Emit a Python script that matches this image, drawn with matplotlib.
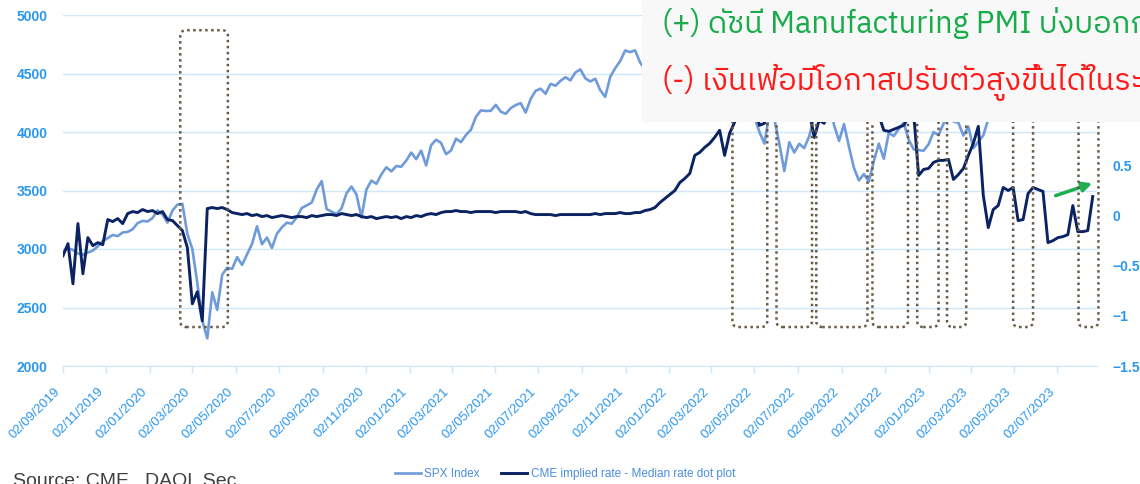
import matplotlib
matplotlib.use('Agg')
import matplotlib.pyplot as plt
import matplotlib.dates as mdates
from matplotlib.patches import Rectangle, FancyBboxPatch
from matplotlib.transforms import IdentityTransform
from matplotlib.ticker import FuncFormatter
from matplotlib import font_manager
from matplotlib.ft2font import FT2Font
import pandas as pd

# ---- data (weekly) ----
start_date = '2019-09-02'

spx = [
    # 2019
    2979, 3007, 2992, 2961, 2952, 2970, 2986, 3023, 3067, 3093,
    3120, 3110, 3141, 3146, 3169, 3221, 3240, 3235,
    # 2020
    3265, 3330, 3295, 3225, 3328, 3380, 3386, 3128,
    3000, 2711, 2390, 2237, 2630, 2480, 2780, 2840, 2830,
    2930, 2864, 2955, 3044, 3194, 3041, 3098, 3009, 3130,
    3185, 3225, 3216, 3271, 3351, 3373, 3397, 3508, 3580,
    3341, 3319, 3298, 3348, 3477, 3534, 3465, 3270,
    3509, 3585, 3557, 3638, 3699, 3663, 3709, 3703, 3756,
    # 2021
    3824, 3768, 3841, 3714, 3887, 3934, 3907, 3811,
    3842, 3943, 3913, 3974, 4019, 4129, 4185, 4180, 4181,
    4232, 4174, 4156, 4204, 4230, 4247, 4166, 4281, 4352,
    4370, 4327, 4412, 4395, 4437, 4468, 4441, 4509, 4535,
    4459, 4432, 4455, 4357, 4300, 4471, 4545, 4605,
    4697, 4683, 4698, 4595, 4538, 4712, 4620, 4725, 4766,
    # 2022
    4796, 4662, 4398, 4326, 4500, 4419, 4349, 4385, 4329,
    4170, 4463, 4543, 4546, 4488, 4393, 4272, 4132,
    4123, 4000, 3901, 4158, 4109, 3901, 3666, 3912, 3825,
    3899, 3863, 3962, 4130, 4145, 4280, 4305, 4058, 3924,
    4068, 3873, 3693, 3586, 3640, 3577, 3752, 3901, 3771,
    3993, 3965, 4026, 4080, 3934, 3852, 3845, 3840,
    # 2023
    3895, 3999, 3973, 4071, 4136, 4090, 4079, 3970, 4046,
    3862, 3917, 3971, 4109, 4105, 4138, 4133, 4169,
    4136, 4124, 4192, 4205, 4282, 4299, 4410, 4348, 4450,
    4399, 4505, 4536, 4582, 4478, 4464, 4370, 4406,
]

cme_gap = [
    -0.40, -0.28, -0.68, -0.08, -0.58, -0.22, -0.30, -0.27, -0.29, -0.04,
    -0.06, -0.03, -0.08, 0.02, 0.04, 0.03, 0.06, 0.04, 0.05, 0.02,
    0.04, -0.04, -0.05, -0.10, -0.15, -0.32, -0.88, -0.76, -1.05, 0.07,
    0.08, 0.07, 0.08, 0.06, 0.03, 0.02, 0.01, 0.02, 0.00, 0.01,
    -0.01, 0.00, -0.02, -0.01, 0.00, -0.01, -0.02, -0.01, -0.01, -0.02,
    0.00, -0.01, 0.00, 0.01, 0.01, 0.00, 0.02, 0.01, 0.00, 0.01,
    -0.01, -0.02, -0.01, -0.03, -0.02, -0.01, -0.02, -0.01, -0.03, -0.01,
    -0.02, 0.00, -0.01, 0.01, 0.02, 0.01, 0.03, 0.04, 0.04, 0.05,
    0.04, 0.04, 0.03, 0.04, 0.04, 0.04, 0.04, 0.03, 0.04, 0.04,
    0.04, 0.04, 0.03, 0.04, 0.02, 0.01, 0.01, 0.01, 0.01, 0.00,
    0.01, 0.01, 0.01, 0.01, 0.01, 0.01, 0.01, 0.02, 0.01, 0.02,
    0.02, 0.02, 0.03, 0.02, 0.02, 0.03, 0.03, 0.05, 0.06, 0.08,
    0.13, 0.17, 0.21, 0.25, 0.33, 0.37, 0.42, 0.60, 0.63, 0.68,
    0.72, 0.78, 0.85, 0.60, 0.82, 0.93, 1.05, 1.15, 1.25, 1.10,
    0.90, 0.92, 1.10, 1.30, 1.40, 1.35, 1.50, 1.45, 1.30, 1.20,
    1.05, 0.78, 0.95, 0.92, 1.05, 1.20, 1.40, 1.50, 1.60, 1.45,
    1.35, 1.30, 1.20, 1.10, 1.00, 0.85, 0.84, 0.86, 0.88, 0.90,
    0.98, 1.02, 0.40, 0.46, 0.47, 0.53, 0.55, 0.55, 0.56, 0.36,
    0.41, 0.47, 0.60, 0.72, 0.89, 0.20, -0.12, 0.06, 0.10, 0.28,
    0.25, 0.28, -0.05, -0.04, 0.22, 0.28, 0.26, 0.24, -0.27, -0.25,
    -0.22, -0.21, -0.19, 0.10, -0.16, -0.16, -0.15, 0.19,
]

tick_labels = ['02/09/2019', '02/11/2019', '02/01/2020', '02/03/2020', '02/05/2020',
               '02/07/2020', '02/09/2020', '02/11/2020', '02/01/2021', '02/03/2021',
               '02/05/2021', '02/07/2021', '02/09/2021', '02/11/2021', '02/01/2022',
               '02/03/2022', '02/05/2022', '02/07/2022', '02/09/2022', '02/11/2022',
               '02/01/2023', '02/03/2023', '02/05/2023', '02/07/2023']

# right axis ticks that show (the upper ones sit under the header panel)
right_ticks = [-1.5, -1.0, -0.5, 0, 0.5]

# highlighted periods (dotted boxes)
box_spans = [('2020-02-14', '2020-04-21'), ('2022-04-01', '2022-05-20'),
             ('2022-06-02', '2022-07-22'), ('2022-07-28', '2022-10-08'),
             ('2022-10-15', '2022-12-04'), ('2022-12-17', '2023-01-16'),
             ('2023-01-28', '2023-02-24'), ('2023-05-01', '2023-05-29'),
             ('2023-08-01', '2023-08-29')]
box_low, box_high = 2333, 4870

arrow_from = ('2023-06-26', 0.19)
arrow_to = ('2023-08-24', 0.33)

line1 = '(+) ดัชนี Manufacturing PMI บ่งบอกการฟื้นตัว'
line2 = '(-) เงินเฟ้อมีโอกาสปรับตัวสูงขึ้นได้ในระยะสั้น'


def find_thai_font():
    pref = ['Thai', 'Loma', 'Garuda', 'Kanit', 'Sarabun', 'Prompt', 'Waree', 'Umpush', 'Kinnari', 'Norasi']
    found = []
    for f in font_manager.fontManager.ttflist:
        try:
            ft = FT2Font(f.fname)
            if ft.get_char_index(0x0E14):
                found.append(f.name)
        except Exception:
            pass
    for p in pref:
        for n in found:
            if p in n:
                return n
    return found[0] if found else 'DejaVu Sans'


thai_font = find_thai_font()

plt.rcParams['font.family'] = ['Liberation Sans', 'DejaVu Sans']

W, H = 1140, 484
fig = plt.figure(figsize=(W / 100, H / 100), dpi=100)
fig.patch.set_facecolor('white')
ax = fig.add_axes([63 / W, (H - 366) / H, (1097 - 63) / W, (366 - 15) / H])
ax2 = ax.twinx()

dates = pd.date_range(start_date, periods=len(spx), freq='7D')
blue_lbl = '#2a97ef'

ax.plot(dates, spx, color='#6f9bdb', lw=1.9, label='SPX Index')
ax2.plot(dates, cme_gap, color='#0b2363', lw=2.1,
         label='CME implied rate - Median rate dot plot')

ax.set_xlim(pd.Timestamp('2019-09-02'), pd.Timestamp('2023-08-27'))
ax.set_ylim(2000, 5000)
ax.set_yticks(range(2000, 5001, 500))
ax2.set_ylim(-1.5, 2.0)
ax2.set_yticks(right_ticks)
ax2.yaxis.set_major_formatter(FuncFormatter(lambda v, p: '{:g}'.format(v).replace('-', '\u2212')))

tick_dates = pd.to_datetime(tick_labels, format='%d/%m/%Y')
ax.set_xticks(tick_dates)
ax.set_xticklabels(tick_labels, rotation=45, ha='right', va='top',
                   fontsize=9.5, color=blue_lbl)
ax.tick_params(axis='x', length=5, width=1, color='#cfe7fb', pad=9)
ax.tick_params(axis='y', length=0, pad=11, labelsize=10, labelcolor=blue_lbl)
ax2.tick_params(axis='y', length=0, pad=11, labelsize=10, labelcolor=blue_lbl)
for lbl in ax.get_yticklabels() + ax2.get_yticklabels():
    lbl.set_fontweight('bold')

ax.yaxis.grid(True, color='#cfe7fb', lw=1)
ax.set_axisbelow(True)
for s in ['top', 'left', 'right']:
    ax.spines[s].set_visible(False)
    ax2.spines[s].set_visible(False)
ax.spines['bottom'].set_color('#cfe7fb')
ax2.spines['bottom'].set_visible(False)

# green arrow
ax2.annotate('', xy=(pd.Timestamp(arrow_to[0]), arrow_to[1]),
             xytext=(pd.Timestamp(arrow_from[0]), arrow_from[1]),
             arrowprops=dict(arrowstyle='-|>', color='#1fae4f', lw=2.5, mutation_scale=14))

# dotted boxes
for d0, d1 in box_spans:
    x0, y0 = ax.transData.transform((mdates.date2num(pd.Timestamp(d0)), box_low))
    x1, y1 = ax.transData.transform((mdates.date2num(pd.Timestamp(d1)), box_high))
    p = FancyBboxPatch((x0, y0), x1 - x0, y1 - y0,
                       boxstyle='round,pad=0,rounding_size=6',
                       transform=IdentityTransform(), fill=False,
                       edgecolor='#6b5a48', lw=1.8, linestyle=(0, (1, 1.4)), zorder=5)
    fig.add_artist(p)

# header panel
fig.add_artist(Rectangle((642 / W, (H - 122) / H), (W - 642) / W, 122 / H,
                         transform=fig.transFigure, facecolor='#f8f8f8',
                         edgecolor='none', zorder=20))
fig.text(662 / W, (H - 33) / H, line1, color='#1aab4b', fontsize=22, va='baseline',
         family=[thai_font, 'DejaVu Sans'], zorder=21)
fig.text(662 / W, (H - 90) / H, line2, color='#ff1a1a', fontsize=22, va='baseline',
         family=[thai_font, 'DejaVu Sans'], zorder=21)

# legend + source
h1, l1 = ax.get_legend_handles_labels()
h2, l2 = ax2.get_legend_handles_labels()
fig.legend(h1 + h2, l1 + l2, loc='center', bbox_to_anchor=(565 / W, 10 / H), ncol=2,
           frameon=False, handlelength=2.2, handletextpad=0.3,
           columnspacing=1.8, labelcolor='#4a8de0',
           prop={'family': ['Liberation Sans Narrow', 'Liberation Sans'], 'size': 8.5})
fig.text(13 / W, -2 / H, 'Source: CME , DAOL Sec', fontsize=14, color='#404040',
         va='baseline')

fig.savefig('out.png', dpi=100)
